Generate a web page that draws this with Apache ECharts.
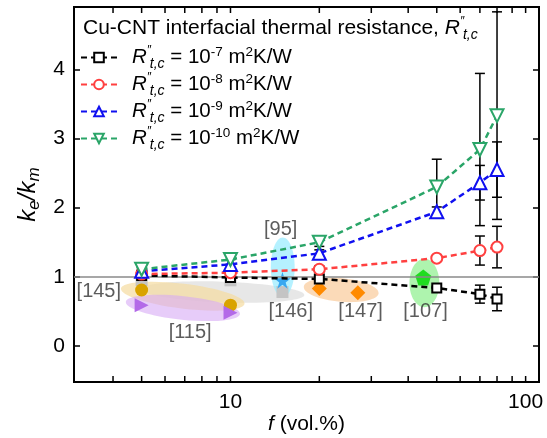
<!DOCTYPE html>
<html>
<head>
<meta charset="utf-8">
<script src="https://cdn.jsdelivr.net/npm/echarts@6/dist/echarts.min.js"></script>
<style>
  html, body { margin: 0; padding: 0; background: #fff; }
  #chart { width: 547px; height: 438px; }
</style>
</head>
<body>
<div id="chart"></div>
<script>
const FONT = '"Liberation Sans", Arial, sans-serif';

// volume fraction f (vol.%)
const fVol = [5, 10, 20, 50, 70, 80];

// ke/km for each interfacial resistance
const ratioR7 = [1.02, 0.99, 0.97, 0.84, 0.75, 0.68];
const ratioR8 = [1.04, 1.06, 1.11, 1.27, 1.38, 1.43];
const ratioR9 = [1.08, 1.18, 1.34, 1.94, 2.36, 2.55];
const ratioR10 = [1.11, 1.25, 1.50, 2.30, 2.84, 3.33];

// error bar half widths
const errR7 = [0.02, 0.04, 0.04, 0.03, 0.13, 0.17];
const errR8 = [0.02, 0.05, 0.05, 0.04, 0.21, 0.30];
const errR9 = [0.03, 0.07, 0.05, 0.07, 0.25, 0.40];
const errR10 = [0.03, 0.07, 0.06, 0.40, 1.10, 1.50];

// literature points [f, ke/km]
const lit145 = [[5, 0.81], [10, 0.59]];
const lit115 = [[5, 0.59], [10, 0.48]];
const lit146 = [[5, 0.95], [10, 0.95], [15, 0.78]];
const lit95 = [[15, 0.95]];
const lit147 = [[20, 0.83], [27, 0.77]];
const lit107 = [[45, 0.99]];

// shaded clouds round the literature points: [fLeft, fRight, yCenter, yHalf, tilt]
const clouds = [
  [5.0, 17.8, 0.78, 0.15, -2],    // [146] grey
  [4.24, 11.2, 0.72, 0.18, -7],   // [145] gold
  [4.41, 10.8, 0.55, 0.17, -6],   // [115] purple
  [13.7, 16.5, 1.14, 0.43, 0],    // [95] cyan
  [17.7, 31.8, 0.81, 0.17, -5],   // [147] orange
  [40.4, 51.0, 0.91, 0.35, 0]     // [107] green
];
const cloudColors = ['rgba(225,225,225,0.8)', 'rgba(245,220,160,0.7)', 'rgba(215,170,245,0.6)',
  'rgba(150,235,255,0.7)', 'rgba(250,205,160,0.75)', 'rgba(140,240,140,0.7)'];

// reference labels
const refNames = ['[145]', '[115]', '[95]', '[146]', '[147]', '[107]'];
const refLabelPos = [[3.58, 0.79], [7.3, 0.19], [14.8, 1.69], [16, 0.505], [27.6, 0.505], [45.8, 0.505]];

// axis ticks
const xTicks = [4, 5, 6, 7, 8, 9, 10, 20, 30, 40, 50, 60, 70, 80, 90, 100];
const xLabels = [10, 100];
const xMin = 2.95, xMax = 111;
const yMin = -0.52, yMax = 4.9;

const names = ['r7', 'r8', 'r9', 'r10'];
const legendText = {
  r7: '{i|R}{q|″}{s|t,c}{n| = 10}{p|-7}{n| m}{p|2}{n|K/W}',
  r8: '{i|R}{q|″}{s|t,c}{n| = 10}{p|-8}{n| m}{p|2}{n|K/W}',
  r9: '{i|R}{q|″}{s|t,c}{n| = 10}{p|-9}{n| m}{p|2}{n|K/W}',
  r10: '{i|R}{q|″}{s|t,c}{n| = 10}{p|-10}{n| m}{p|2}{n|K/W}'
};
function richText(size) {
  return {
    n: { fontSize: size, fontFamily: FONT, color: '#000' },
    i: { fontStyle: 'italic', fontSize: size, fontFamily: FONT, color: '#000' },
    q: { fontSize: 12, fontStyle: 'italic', padding: [0, 0, 13, 0], width: 3, fontFamily: FONT, color: '#000' },
    s: { fontStyle: 'italic', fontSize: 14, padding: [13, 0, 0, 0], fontFamily: FONT, color: '#000' },
    p: { fontSize: 13.5, padding: [0, 0, 10, 0], fontFamily: FONT, color: '#000' }
  };
}

const lg = v => Math.log10(v);

function renderErr(params, api) {
  const x = api.value(0), y = api.value(1), e = api.value(2);
  const t = api.coord([x, y + e]), b = api.coord([x, y - e]);
  const w = 5;
  const st = { stroke: '#000', lineWidth: 1.5 };
  return {
    type: 'group',
    children: [
      { type: 'line', shape: { x1: t[0], y1: t[1], x2: b[0], y2: b[1] }, style: st },
      { type: 'line', shape: { x1: t[0] - w, y1: t[1], x2: t[0] + w, y2: t[1] }, style: st },
      { type: 'line', shape: { x1: b[0] - w, y1: b[1], x2: b[0] + w, y2: b[1] }, style: st }
    ]
  };
}

// inward ticks on bottom and top frame at the log positions
function renderTick(params, api) {
  const v = api.value(0);
  const b = api.coord([v, yMin]), t = api.coord([v, yMax]);
  const st = { stroke: '#000', lineWidth: 1.5 };
  return {
    type: 'group',
    children: [
      { type: 'line', shape: { x1: b[0], y1: b[1], x2: b[0], y2: b[1] - 6 }, style: st },
      { type: 'line', shape: { x1: t[0], y1: t[1], x2: t[0], y2: t[1] + 6 }, style: st }
    ]
  };
}

function renderCloud(params, api) {
  const c = clouds[params.dataIndex];
  const p1 = api.coord([c[0], c[2]]), p2 = api.coord([c[1], c[2]]);
  const pt = api.coord([c[0], c[2] + c[3]]);
  return {
    type: 'ellipse',
    x: (p1[0] + p2[0]) / 2,
    y: p1[1],
    rotation: c[4] * Math.PI / 180,
    shape: { cx: 0, cy: 0, rx: (p2[0] - p1[0]) / 2, ry: p1[1] - pt[1] },
    style: { fill: cloudColors[params.dataIndex] }
  };
}

function mainSeries(name, vals, color, symbol, size, rotate) {
  return {
    name: name, type: 'line', z: 5,
    data: fVol.map((x, i) => [x, vals[i]]),
    symbol: symbol, symbolSize: size, symbolRotate: rotate || 0,
    lineStyle: { color: color, width: 2.5, type: [6, 4] },
    itemStyle: { color: '#fff', borderColor: color, borderWidth: 2 }
  };
}

function errSeries(vals, errs) {
  return {
    type: 'custom', z: 4, silent: true,
    renderItem: renderErr,
    data: fVol.map((x, i) => [x, vals[i], errs[i]])
  };
}

function litSeries(data, color, symbol, size, rotate) {
  return {
    type: 'scatter', z: 3, data: data, symbol: symbol, symbolSize: size,
    symbolRotate: rotate || 0, itemStyle: { color: color, opacity: 1 }
  };
}

const yAxisBase = {
  type: 'value', min: yMin, max: yMax, splitNumber: 5,
  axisLine: { show: true, onZero: false, lineStyle: { color: '#000', width: 2 } },
  splitLine: { show: false },
  axisTick: { show: true, inside: true, length: 6, lineStyle: { color: '#000', width: 1.5 } }
};

const chart = echarts.init(document.getElementById('chart'));
chart.setOption({
  animation: false,
  textStyle: { fontFamily: FONT },
  grid: { left: 74, right: 8, top: 7, bottom: 56, outerBoundsMode: 'none',
    show: true, borderColor: '#000', borderWidth: 2 },
  title: {
    left: 83, top: 15, padding: 0,
    text: 'Cu-CNT interfacial thermal resistance, {i|R}{q|″}{s|t,c}',
    textStyle: { fontSize: 21, fontWeight: 'normal', color: '#000', fontFamily: FONT, rich: richText(21) }
  },
  legend: {
    data: names, orient: 'vertical', left: 80, top: 45, padding: 0,
    itemWidth: 36, itemHeight: 12, itemGap: 1,
    formatter: n => legendText[n],
    textStyle: { fontSize: 20.5, color: '#000', fontFamily: FONT, padding: [0, 0, 0, 10], rich: richText(20.5) }
  },
  xAxis: [
    { type: 'log', min: xMin, max: xMax, position: 'bottom',
      axisLine: { onZero: false, lineStyle: { color: '#000', width: 2 } },
      axisTick: { show: false }, axisLabel: { show: false }, splitLine: { show: false },
      name: '{i|f} (vol.%)', nameLocation: 'middle', nameGap: 32,
      nameTextStyle: { fontSize: 21, color: '#000', fontFamily: FONT,
        rich: { i: { fontStyle: 'italic', fontSize: 21, fontFamily: FONT } } } },
    { type: 'value', min: lg(xMin), max: lg(xMax), position: 'bottom',
      axisLine: { show: false, onZero: false }, splitLine: { show: false }, axisTick: { show: false },
      axisLabel: { fontSize: 21, color: '#000', margin: 10, customValues: xLabels.map(lg),
        formatter: v => String(Math.round(Math.pow(10, v))) } }
  ],
  yAxis: [
    Object.assign({}, yAxisBase, {
      position: 'left',
      axisLabel: { fontSize: 21, color: '#000', margin: 9, showMinLabel: false, showMaxLabel: false },
      name: '{i|k}{s|e}{i|/k}{s|m}', nameLocation: 'middle', nameGap: 29,
      nameTextStyle: { fontSize: 24, color: '#000', fontFamily: FONT,
        rich: { i: { fontStyle: 'italic', fontSize: 24, fontFamily: FONT },
                s: { fontStyle: 'italic', fontSize: 17, padding: [12, 0, 0, 0], fontFamily: FONT } } } }),
    Object.assign({}, yAxisBase, { position: 'right', axisLabel: { show: false } })
  ],
  series: [
    { type: 'custom', z: 1, silent: true, renderItem: renderCloud,
      data: clouds.map(c => [c[0], c[2]]),
      markLine: { silent: true, symbol: 'none', label: { show: false },
        lineStyle: { color: '#8a8a8a', width: 1.5, type: 'solid' }, data: [{ yAxis: 1 }] } },
    litSeries(lit146, '#c4c4c4', 'rect', 12),
    litSeries(lit145, '#d9a300', 'circle', 13),
    litSeries(lit115, '#b36ae8', 'triangle', 14, -90),
    litSeries(lit95, '#3aa8f0', 'path://M50,0 L61,35 L98,35 L68,57 L79,91 L50,70 L21,91 L32,57 L2,35 L39,35 Z', 17),
    litSeries(lit147, '#ff8a00', 'diamond', 15),
    litSeries(lit107, '#1fdc1f', 'path://M50,0 L98,35 L79,91 L21,91 L2,35 Z', 16),
    { type: 'scatter', z: 6, symbolSize: 0, clip: false, silent: true,
      data: refNames.map((n, i) => ({ name: n, value: refLabelPos[i] })),
      label: { show: true, position: 'inside', formatter: p => p.name, fontSize: 20, color: '#333', fontFamily: FONT } },
    { type: 'custom', z: 10, silent: true, clip: false, renderItem: renderTick,
      data: xTicks.map(v => [v, yMin]) },
    errSeries(ratioR7, errR7),
    errSeries(ratioR8, errR8),
    errSeries(ratioR9, errR9),
    errSeries(ratioR10, errR10),
    mainSeries('r7', ratioR7, '#000000', 'rect', 9),
    mainSeries('r8', ratioR8, '#ff4040', 'circle', 11),
    mainSeries('r9', ratioR9, '#1010f0', 'triangle', 13),
    mainSeries('r10', ratioR10, '#2aa568', 'triangle', 13, 180)
  ]
});
</script>
</body>
</html>
